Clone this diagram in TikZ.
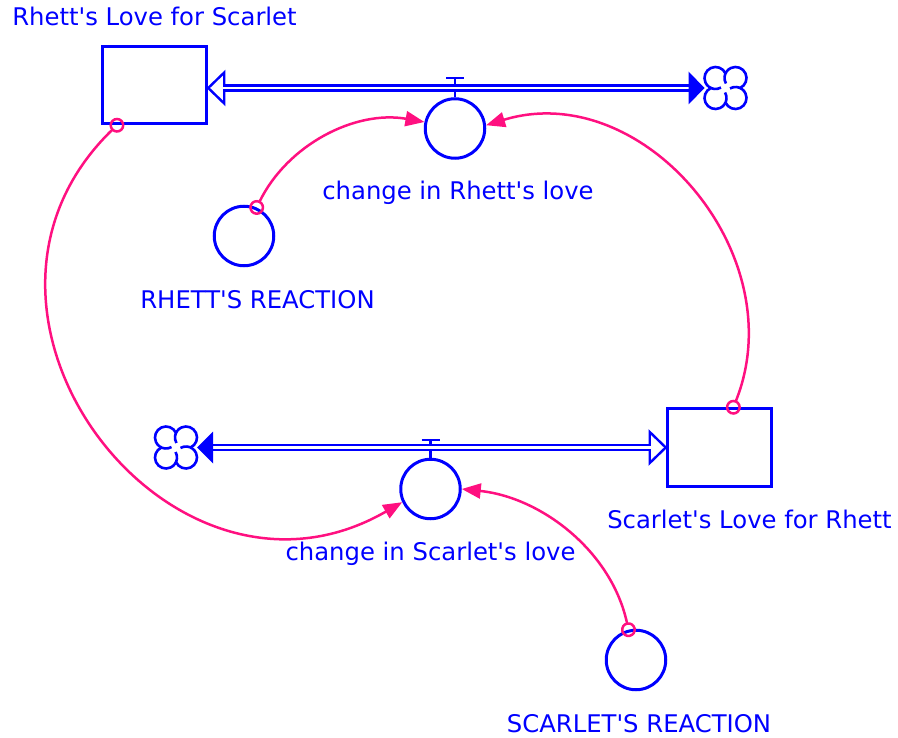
\documentclass[tikz,border=0pt]{standalone}
\usepackage{fontspec}
\setmainfont{DejaVu Sans}[Ligatures=TeXOff]
\usetikzlibrary{arrows.meta,positioning,calc}
\definecolor{b1}{HTML}{0000FF}
\definecolor{m1}{HTML}{FF1080}
\tikzset{
  vcloud/.pic={
    \fill[white] (-10,-10) rectangle (10,10);
    \foreach \k in {0,...,3}{\fill[white,rotate=90*\k] (-10,10) circle (11);}
    \foreach \k in {0,...,3}{\draw[b1,line width=2.6pt,rotate=90*\k] (-10,10) ++(24.6:11) arc[start angle=24.6,end angle=300,radius=11];}
  }
}

\begin{document}
\begin{tikzpicture}[x=1pt,y=1pt,
  stock/.style={draw=b1,line width=3pt,minimum width=104.5pt,minimum height=77.5pt,fill=white},
  aux/.style={draw=b1,circle,line width=3pt,minimum size=59.5pt,inner sep=0pt,fill=white},
  lbl/.style={text=b1,font=\fontsize{24.3}{28}\selectfont,inner sep=0pt,text height=18pt,text depth=6pt},
  pipe/.style={draw=b1,line width=2.4pt,double=white,double distance=2.4pt},
  link/.style={m1,line width=2.5pt,{Circle[open,length=15pt]}-{Triangle[length=19pt,width=15pt]},shorten <=-7.5pt}]
  \useasboundingbox (0,0) rectangle (898,-738);
  % 存量和变量
  \node[stock] (rhettLove) at (154.5,-85) {};
  \node[stock] (scarletLove) at (719.5,-447.5) {};
  \node[aux] (changeRhett) at (455,-128.5) {};
  \node[aux] (changeScarlet) at (430.5,-489) {};
  \node[aux] (rhettReact) at (244,-236) {};
  \node[aux] (scarletReact) at (636,-660) {};
  \coordinate (cloudR) at (725.5,-88);
  \coordinate (cloudS) at (176,-447.5);
  \coordinate (inR) at (rhettLove.east |- cloudR);
  \coordinate (inS) at (scarletLove.west |- cloudS);
  % 阀门
  \draw[b1,line width=2.4pt] (changeRhett.north) -- ++(0,19) ++(-9,0) -- ++(18,0);
  \draw[b1,line width=2.4pt] (changeScarlet.north) -- ++(0,18) ++(-9,0) -- ++(18,0);
  % 管道
  \draw[b1,line width=2.4pt,fill=white] (inR) -- ++(16,15.5) -- ++(0,-31) -- cycle;
  \draw[pipe] ($(inR)+(14.5,0)$) -- ($(cloudR)+(-37,0)$);
  \fill[b1] ($(cloudR)+(-21,0)$) -- ++(-16,16.5) -- ++(0,-33) -- cycle;
  \pic at (cloudR) {vcloud};
  \draw[b1,line width=2.4pt,fill=white] (inS) -- ++(-16,15.5) -- ++(0,-31) -- cycle;
  \draw[pipe] ($(cloudS)+(37,0)$) -- ($(inS)+(-14.5,0)$);
  \fill[b1] ($(cloudS)+(21,0)$) -- ++(16,16) -- ++(0,-32) -- cycle;
  \pic at (cloudS) {vcloud};
  % 连接线
  \draw[link] (rhettLove.227) to[out=224,in=210,looseness=1.45] (changeScarlet.205);
  \draw[link] (rhettReact.66) to[out=64,in=170,looseness=0.95] (changeRhett.168);
  \draw[link] (scarletLove.71) to[out=68,in=17,looseness=1.12] (changeRhett.6);
  \draw[link] (scarletReact.104) to[out=102,in=-6,looseness=0.94] (changeScarlet.0);
  % 标签
  \node[lbl, above=13pt of rhettLove] (lRhettLove) {Rhett's Love for Scarlet};
  \node[lbl, below=22pt of changeRhett, xshift=3pt] (lChangeRhett) {change in Rhett's love};
  \node[lbl, below=23pt of rhettReact, xshift=13.5pt] (lRhettReact) {RHETT'S REACTION};
  \node[lbl, below=22.25pt of scarletLove, xshift=30pt] (lScarletLove) {Scarlet's Love for Rhett};
  \node[lbl, below=21.75pt of changeScarlet] (lChangeScarlet) {change in Scarlet's love};
  \node[lbl, below=22.75pt of scarletReact, xshift=3pt] (lScarletReact) {SCARLET'S REACTION};
\end{tikzpicture}
\end{document}
